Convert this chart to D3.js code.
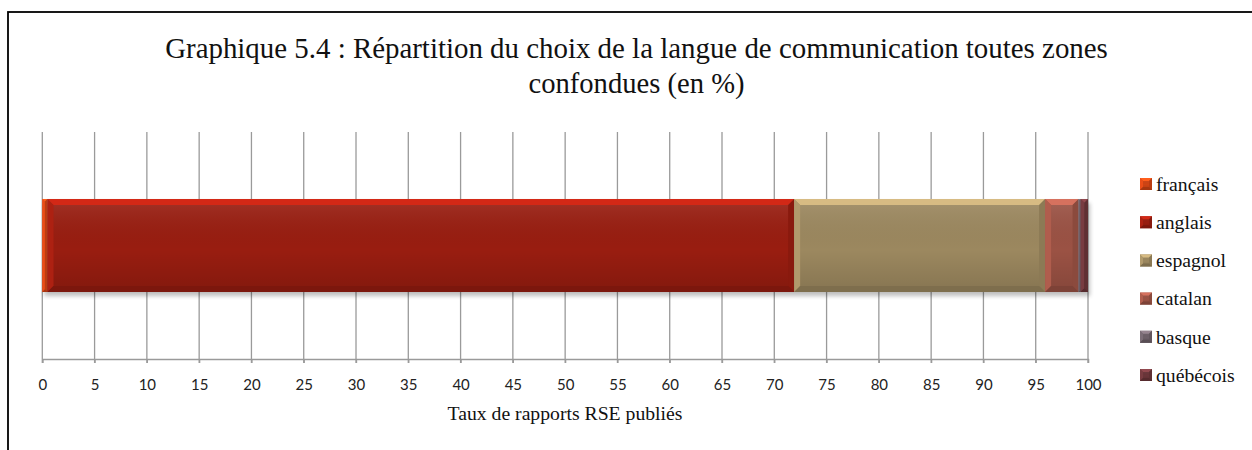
<!DOCTYPE html>
<html>
<head>
<meta charset="utf-8">
<script src="https://cdn.jsdelivr.net/npm/d3@7"></script>
<style>
  body { margin: 0; background: #fff; }
  svg { display: block; }
</style>
</head>
<body>
<svg id="chart"></svg>
<script>
const categories = ['français', 'anglais', 'espagnol', 'catalan', 'basque', 'québécois']
const values = [0.5, 71.4, 24.0, 3.2, 0.2, 0.7]
const colors = ['#cf4414', '#991d10', '#9c885f', '#9b5244', '#6d6068', '#6a3539']
const tickValues = d3.range(0, 101, 5)
const titleLines = ['Graphique 5.4 : Répartition du choix de la langue de communication toutes zones', 'confondues (en %)']
const axisTitle = 'Taux de rapports RSE publiés'

const width = 1252
const height = 450
const serif = '"Liberation Serif", "DejaVu Serif", serif'
const sans = 'Lato, "Liberation Sans", sans-serif'

const svg = d3.select('#chart').attr('width', width).attr('height', height)
const defs = svg.append('defs')
defs.append('filter').attr('id', 'shadow').attr('x', '-5%').attr('y', '-20%').attr('width', '110%').attr('height', '140%')
    .append('feGaussianBlur').attr('stdDeviation', 2)

// soft shading from top to bottom, laid over each bar face
const shade = defs.append('linearGradient').attr('id', 'shade').attr('x1', 0).attr('x2', 0).attr('y1', 0).attr('y2', 1)
shade.append('stop').attr('offset', '0%').attr('stop-color', '#fff').attr('stop-opacity', 0.1)
shade.append('stop').attr('offset', '55%').attr('stop-color', '#000').attr('stop-opacity', 0)
shade.append('stop').attr('offset', '100%').attr('stop-color', '#000').attr('stop-opacity', 0.14)

// scale a text element so it spans the width we read off the picture
function fit(sel, target) {
    const w = sel.node().getComputedTextLength()
    const size = parseFloat(sel.attr('font-size'))
    sel.attr('font-size', (size * target / w).toFixed(2))
}

// outer frame, runs off the right and bottom of the picture
svg.append('rect').attr('x', 8).attr('y', 12).attr('width', 1400).attr('height', 600)
    .attr('fill', 'none').attr('stroke', '#000').attr('stroke-width', 1.8)

// title
titleLines.forEach((line, i) => {
    const t = svg.append('text').attr('x', 636.5).attr('y', [48, 83][i]).attr('dy', '0.35em')
        .attr('text-anchor', 'middle').attr('font-family', serif).attr('font-size', 24).attr('fill', '#111')
        .text(line)
    fit(t, [943, 216][i])
})

const x = d3.scaleLinear().domain([0, 100]).range([42.3, 1088])
const y = d3.scaleBand().domain(['all']).range([132, 359]).paddingOuter(0.72)

// grid lines and axis
const grid = svg.append('g')
grid.selectAll('line').data(tickValues).join('line')
    .attr('x1', d => x(d)).attr('x2', d => x(d))
    .attr('y1', 132).attr('y2', 363)
    .attr('stroke', '#9a9a9a').attr('stroke-width', 1.3)

const axis = svg.append('g').attr('transform', 'translate(0,359)')
    .call(d3.axisBottom(x).tickValues(tickValues).tickSize(4).tickPadding(16).tickFormat(d3.format('d')))
axis.select('.domain').attr('stroke', '#9a9a9a').attr('stroke-width', 1.3)
axis.selectAll('.tick line').attr('stroke', '#9a9a9a').attr('stroke-width', 1.3)
axis.selectAll('.tick text').attr('font-family', sans).attr('font-size', 15).attr('fill', '#222')

const at = svg.append('text').attr('x', 565).attr('y', 413).attr('dy', '0.35em').attr('text-anchor', 'middle')
    .attr('font-family', serif).attr('font-size', 15).attr('fill', '#111').text(axisTitle)
fit(at, 235)

// stacked bar
const row = {}
categories.forEach((c, i) => { row[c] = values[i] })
const stacked = d3.stack().keys(categories)([row])

const y0 = y('all')
const bh = y.bandwidth()

svg.append('rect').attr('x', x(0) + 2).attr('y', y0 + 4).attr('width', x(100) - x(0)).attr('height', bh)
    .attr('fill', '#000').attr('opacity', 0.25).attr('filter', 'url(#shadow)')

function bevel(g, bx, by, bw, bhh, color, b) {
    b = Math.min(b, bw / 2, bhh / 2)
    const c = d3.color(color)
    g.append('rect').attr('x', bx).attr('y', by).attr('width', bw).attr('height', bhh).attr('fill', color)
    g.append('rect').attr('x', bx).attr('y', by).attr('width', bw).attr('height', bhh).attr('fill', 'url(#shade)')
    const faces = [
        { pts: [[bx, by], [bx + bw, by], [bx + bw - b, by + b], [bx + b, by + b]], fill: c.brighter(0.9) },
        { pts: [[bx, by], [bx + b, by + b], [bx + b, by + bhh - b], [bx, by + bhh]], fill: c.brighter(0.35) },
        { pts: [[bx + bw, by], [bx + bw, by + bhh], [bx + bw - b, by + bhh - b], [bx + bw - b, by + b]], fill: c.darker(0.3) },
        { pts: [[bx, by + bhh], [bx + b, by + bhh - b], [bx + bw - b, by + bhh - b], [bx + bw, by + bhh]], fill: c.darker(0.6) }
    ]
    g.selectAll(null).data(faces).join('polygon')
        .attr('points', d => d.pts.map(p => p.join(',')).join(' '))
        .attr('fill', d => d.fill)
}

const bars = svg.append('g')
stacked.forEach((s, i) => {
    const d = s[0]
    const g = bars.append('g')
    bevel(g, x(d[0]), y0, x(d[1]) - x(d[0]), bh, colors[i], 6)
})

// legend
const legend = svg.append('g')
categories.forEach((c, i) => {
    const cy = 184 + i * 38.2
    const g = legend.append('g')
    bevel(g, 1140, cy - 6, 12, 12, colors[i], 3)
    const t = g.append('text').attr('x', 1156).attr('y', cy).attr('dy', '0.35em')
        .attr('font-family', serif).attr('font-size', 16).attr('fill', '#111').text(c)
    if (c === 'espagnol') fit(t, 70)
})
const legendSize = legend.selectAll('text').filter(function () { return this.textContent === 'espagnol' }).attr('font-size')
legend.selectAll('text').attr('font-size', legendSize)
</script>
</body>
</html>
